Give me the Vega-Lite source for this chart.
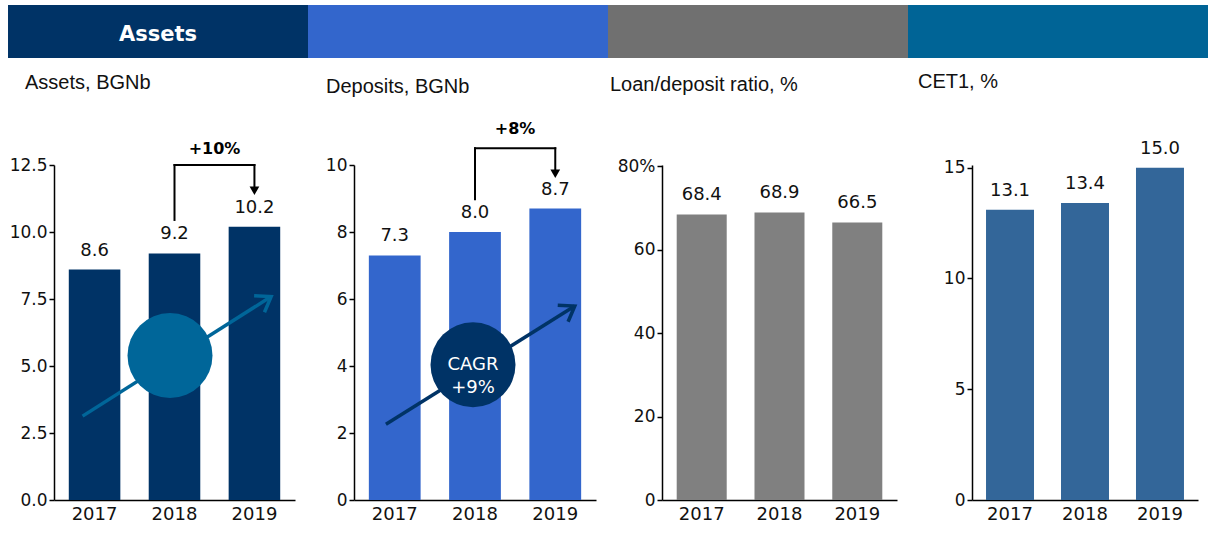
{
  "$schema": "https://vega.github.io/schema/vega-lite/v6.json",
  "background": "white",
  "padding": {"left": 8, "top": 5, "right": 0, "bottom": 4},
  "config": {
    "view": {"stroke": null},
    "axis": {"grid": false, "domainColor": "#000", "tickColor": "#000", "labelColor": "#111", "labelFont": "DejaVu Sans", "domainWidth": 1.5, "tickWidth": 1.5, "title": null},
    "title": {"font": "Liberation Sans", "fontSize": 20, "fontWeight": "normal", "color": "#111", "anchor": "start", "frame": "group", "baseline": "alphabetic"},
    "text": {"font": "DejaVu Sans"}
  },
  "bounds": "flush",
  "spacing": 107,
  "vconcat": [
    {
      "width": 1154,
      "height": 53,
      "data": {"values": [
        {"seg": "Assets", "start": 0, "end": 1, "label": "Assets"},
        {"seg": "Deposits", "start": 1, "end": 2, "label": ""},
        {"seg": "Ratio", "start": 2, "end": 3, "label": ""},
        {"seg": "CET1", "start": 3, "end": 4, "label": ""}
      ]},
      "layer": [
        {
          "mark": {"type": "rect"},
          "encoding": {
            "x": {"field": "start", "type": "quantitative", "scale": {"domain": [0.1533, 4], "nice": false, "zero": false}, "axis": null},
            "x2": {"field": "end"},
            "color": {"field": "seg", "type": "nominal", "scale": {"domain": ["Assets", "Deposits", "Ratio", "CET1"], "range": ["#003366", "#3366CC", "#707070", "#006496"]}, "legend": null}
          }
        },
        {
          "mark": {"type": "text", "font": "DejaVu Sans", "fontWeight": "bold", "fontSize": 21, "color": "white", "baseline": "alphabetic", "dx": 150, "dy": 9},
          "encoding": {
            "x": {"field": "start", "type": "quantitative"},
            "text": {"field": "label"}
          }
        }
      ]
    },
    {
      "bounds": "flush",
      "spacing": 918,
      "hconcat": [
        {
          "bounds": "flush",
          "spacing": 608,
          "hconcat": [
            {
              "bounds": "flush",
              "spacing": 59,
              "hconcat": [
                {
                  "width": 241,
                  "height": 335,
                  "title": {"text": "Assets, BGNb", "dx": -29, "offset": 48},
                  "data": {"values": [
                    {"year": "2017", "value": 8.6},
                    {"year": "2018", "value": 9.2},
                    {"year": "2019", "value": 10.2}
                  ]},
                  "encoding": {
                    "x": {"field": "year", "type": "nominal", "scale": {"domain": ["2017", "2018", "2019"], "paddingInner": 0.355, "paddingOuter": 0.185}, "axis": {"labelAngle": 0, "ticks": false, "tickSize": 0, "labelPadding": 5, "labelFontSize": 18}},
                    "y": {"field": "value", "type": "quantitative", "scale": {"domain": [0, 12.5], "nice": false}, "axis": {"values": [0, 2.5, 5, 7.5, 10, 12.5], "format": ".1f", "tickSize": 5, "labelPadding": 2, "labelFontSize": 17}}
                  },
                  "layer": [
                    {"mark": {"type": "bar", "color": "#003366"}},
                    {"mark": {"type": "text", "fontSize": 18, "color": "#111", "baseline": "alphabetic", "dy": -14}, "encoding": {"text": {"field": "value", "type": "quantitative", "format": ".1f"}}},
                    {"transform": [{"filter": "datum.year == '2018'"}], "mark": {"type": "rule", "strokeWidth": 2, "color": "#000", "strokeCap": "square"}, "encoding": {"y": {"datum": 12.5}, "y2": {"datum": 10.45}}},
                    {"transform": [{"filter": "datum.year == '2018'"}], "mark": {"type": "rule", "strokeWidth": 2, "color": "#000", "strokeCap": "square"}, "encoding": {"x2": {"datum": "2019"}, "y": {"datum": 12.5}}},
                    {"transform": [{"filter": "datum.year == '2019'"}], "mark": {"type": "rule", "strokeWidth": 2, "color": "#000", "strokeCap": "square"}, "encoding": {"y": {"datum": 12.5}, "y2": {"datum": 11.6}}},
                    {"transform": [{"filter": "datum.year == '2019'"}], "mark": {"type": "point", "shape": "triangle-down", "filled": true, "size": 95, "color": "#000", "opacity": 1}, "encoding": {"y": {"datum": 11.54}}},
                    {"transform": [{"filter": "datum.year == '2018'"}], "mark": {"type": "text", "text": "+10%", "fontWeight": "bold", "fontSize": 16, "color": "#000", "baseline": "alphabetic", "dx": 40}, "encoding": {"y": {"datum": 12.92}}},
                    {"transform": [{"filter": "datum.year == '2017'"}], "mark": {"type": "rule", "strokeWidth": 3.5, "color": "#006699", "xOffset": -12, "x2Offset": 16.7}, "encoding": {"x2": {"datum": "2019"}, "y": {"datum": 3.13}, "y2": {"datum": 7.59}}},
                    {"transform": [{"filter": "datum.year == '2018'"}], "mark": {"type": "circle", "size": 7225, "color": "#006699", "opacity": 1, "xOffset": -4.5}, "encoding": {"y": {"datum": 5.39}}},
                    {"transform": [{"filter": "datum.year == '2019'"}], "mark": {"type": "point", "shape": "M-1,-0.7L0,0L-1,0.7", "filled": false, "size": 780, "stroke": "#006699", "strokeWidth": 3.5, "angle": -32, "xOffset": 16.7, "opacity": 1}, "encoding": {"y": {"datum": 7.59}}}
                  ]
                },
                {
                  "width": 242,
                  "height": 335,
                  "title": {"text": "Deposits, BGNb", "dx": -28, "offset": 24},
                  "data": {"values": [
                    {"year": "2017", "value": 7.3},
                    {"year": "2018", "value": 8.0},
                    {"year": "2019", "value": 8.7}
                  ]},
                  "encoding": {
                    "x": {"field": "year", "type": "nominal", "scale": {"domain": ["2017", "2018", "2019"], "paddingInner": 0.355, "paddingOuter": 0.185}, "axis": {"labelAngle": 0, "ticks": false, "tickSize": 0, "labelPadding": 5, "labelFontSize": 18}},
                    "y": {"field": "value", "type": "quantitative", "scale": {"domain": [0, 10], "nice": false}, "axis": {"values": [0, 2, 4, 6, 8, 10], "format": "d", "tickSize": 5, "labelPadding": 2, "labelFontSize": 17}}
                  },
                  "layer": [
                    {"mark": {"type": "bar", "color": "#3366CC"}},
                    {"mark": {"type": "text", "fontSize": 18, "color": "#111", "baseline": "alphabetic", "dy": -14}, "encoding": {"text": {"field": "value", "type": "quantitative", "format": ".1f"}}},
                    {"transform": [{"filter": "datum.year == '2018'"}], "mark": {"type": "rule", "strokeWidth": 2, "color": "#000", "strokeCap": "square"}, "encoding": {"y": {"datum": 10.5}, "y2": {"datum": 8.98}}},
                    {"transform": [{"filter": "datum.year == '2018'"}], "mark": {"type": "rule", "strokeWidth": 2, "color": "#000", "strokeCap": "square"}, "encoding": {"x2": {"datum": "2019"}, "y": {"datum": 10.5}}},
                    {"transform": [{"filter": "datum.year == '2019'"}], "mark": {"type": "rule", "strokeWidth": 2, "color": "#000", "strokeCap": "square"}, "encoding": {"y": {"datum": 10.5}, "y2": {"datum": 9.8}}},
                    {"transform": [{"filter": "datum.year == '2019'"}], "mark": {"type": "point", "shape": "triangle-down", "filled": true, "size": 95, "color": "#000", "opacity": 1}, "encoding": {"y": {"datum": 9.74}}},
                    {"transform": [{"filter": "datum.year == '2018'"}], "mark": {"type": "text", "text": "+8%", "fontWeight": "bold", "fontSize": 16, "color": "#000", "baseline": "alphabetic", "dx": 40}, "encoding": {"y": {"datum": 10.92}}},
                    {"transform": [{"filter": "datum.year == '2017'"}], "mark": {"type": "rule", "strokeWidth": 3.5, "color": "#003366", "xOffset": -8.8, "x2Offset": 19.5}, "encoding": {"x2": {"datum": "2019"}, "y": {"datum": 2.26}, "y2": {"datum": 5.79}}},
                    {"transform": [{"filter": "datum.year == '2018'"}], "mark": {"type": "circle", "size": 7225, "color": "#003366", "opacity": 1, "xOffset": -2}, "encoding": {"y": {"datum": 4.04}}},
                    {"transform": [{"filter": "datum.year == '2018'"}], "mark": {"type": "text", "text": ["CAGR", "+9%"], "fontSize": 18, "color": "white", "baseline": "middle", "lineHeight": 23, "xOffset": -2}, "encoding": {"y": {"datum": 4.04}}},
                    {"transform": [{"filter": "datum.year == '2019'"}], "mark": {"type": "point", "shape": "M-1,-0.7L0,0L-1,0.7", "filled": false, "size": 780, "stroke": "#003366", "strokeWidth": 3.5, "angle": -32, "xOffset": 19.5, "opacity": 1}, "encoding": {"y": {"datum": 5.79}}}
                  ]
                }
              ]
            },
            {
              "width": 235,
              "height": 335,
              "title": {"text": "Loan/deposit ratio, %", "dx": -52, "offset": 62},
              "data": {"values": [
                {"year": "2017", "value": 68.4},
                {"year": "2018", "value": 68.9},
                {"year": "2019", "value": 66.5}
              ]},
              "encoding": {
                "x": {"field": "year", "type": "nominal", "scale": {"domain": ["2017", "2018", "2019"], "paddingInner": 0.357, "paddingOuter": 0.189}, "axis": {"labelAngle": 0, "ticks": false, "tickSize": 0, "labelPadding": 5, "labelFontSize": 18}},
                "y": {"field": "value", "type": "quantitative", "scale": {"domain": [0, 80.25], "nice": false}, "axis": {"values": [0, 20, 40, 60, 80], "labelExpr": "datum.value === 80 ? '80%' : datum.label", "tickSize": 5, "labelPadding": 2, "labelFontSize": 17}}
              },
              "layer": [
                {"mark": {"type": "bar", "color": "#808080"}},
                {"mark": {"type": "text", "fontSize": 18, "color": "#111", "baseline": "alphabetic", "dy": -14}, "encoding": {"text": {"field": "value", "type": "quantitative", "format": ".1f"}}}
              ]
            }
          ]
        },
        {
          "width": 226,
          "height": 335,
          "title": {"text": "CET1, %", "dx": -54, "offset": 48},
          "data": {"values": [
            {"year": "2017", "value": 13.1},
            {"year": "2018", "value": 13.4},
            {"year": "2019", "value": 15.0}
          ]},
          "encoding": {
            "x": {"field": "year", "type": "nominal", "scale": {"domain": ["2017", "2018", "2019"], "paddingInner": 0.36, "paddingOuter": 0.187}, "axis": {"labelAngle": 0, "ticks": false, "tickSize": 0, "labelPadding": 5, "labelFontSize": 18}},
            "y": {"field": "value", "type": "quantitative", "scale": {"domain": [0, 15.12], "nice": false}, "axis": {"values": [0, 5, 10, 15], "format": "d", "tickSize": 5, "labelPadding": 2, "labelFontSize": 17}}
          },
          "layer": [
            {"mark": {"type": "bar", "color": "#336699"}},
            {"mark": {"type": "text", "fontSize": 18, "color": "#111", "baseline": "alphabetic", "dy": -14}, "encoding": {"text": {"field": "value", "type": "quantitative", "format": ".1f"}}}
          ]
        }
      ]
    }
  ]
}
